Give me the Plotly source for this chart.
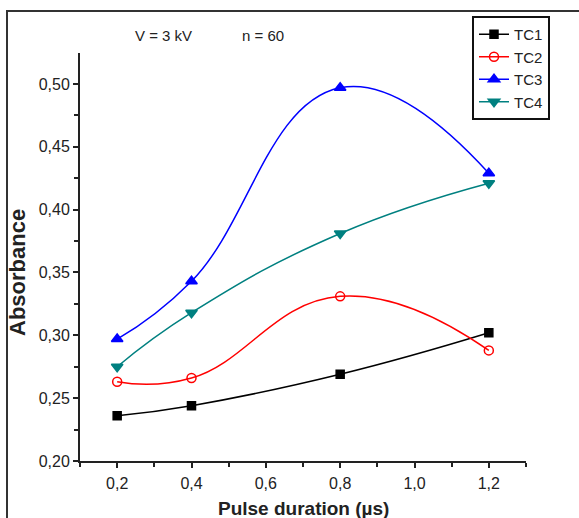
import plotly.graph_objects as go

# Pulse duration (µs) and measured absorbance for each sample
pulse = [0.2, 0.4, 0.8, 1.2]
tc1 = [0.236, 0.244, 0.269, 0.302]
tc2 = [0.263, 0.266, 0.331, 0.288]
tc3 = [0.297, 0.343, 0.497, 0.429]
tc4 = [0.275, 0.318, 0.381, 0.421]

names = ["TC1", "TC2", "TC3", "TC4"]
series = [tc1, tc2, tc3, tc4]
colors = ["#000000", "#FF0000", "#0000FF", "#008080"]
symbols = ["square", "circle-open", "triangle-up", "triangle-down"]
sizes = [8, 9, 10, 10]

W, H = 579, 518
ML, MR, MT, MB = 80, 53, 53, 57
pw, ph = W - ML - MR, H - MT - MB


def px_x(x):
    return (x - ML) / pw


def px_y(y):
    return (H - MB - y) / ph


fig = go.Figure()
for name, ys, c, s, sz in zip(names, series, colors, symbols, sizes):
    fig.add_trace(go.Scatter(
        x=pulse, y=ys, name=name, mode="lines+markers",
        line=dict(color=c, width=1.5, shape="spline", smoothing=1.3),
        marker=dict(symbol=s, size=sz, color=c,
                    line=dict(color=c, width=1.5)),
    ))

font_main = "Liberation Sans, Arial, sans-serif"

fig.update_layout(
    width=W, height=H,
    margin=dict(l=ML, r=MR, t=MT, b=MB, autoexpand=False),
    paper_bgcolor="white", plot_bgcolor="white",
    separators=",.",
    font=dict(family=font_main, size=16, color="#222"),
    xaxis=dict(
        range=[0.1, 1.3], tickvals=[0.2, 0.4, 0.6, 0.8, 1.0, 1.2],
        tickformat=".1f", showgrid=False, zeroline=False, automargin=False,
        showline=True, linecolor="#222", linewidth=2,
        ticks="outside", ticklen=5, tickwidth=2, tickcolor="#222",
        minor=dict(dtick=0.1, tick0=0.1, ticks="outside", ticklen=4,
                   tickwidth=2, tickcolor="#222", showgrid=False),
        ticklabelstandoff=2,
    ),
    yaxis=dict(
        range=[0.20, 0.5246], tickvals=[0.20, 0.25, 0.30, 0.35, 0.40, 0.45, 0.50],
        tickformat=".2f", showgrid=False, zeroline=False, automargin=False,
        showline=True, linecolor="#222", linewidth=2,
        ticks="outside", ticklen=5, tickwidth=2, tickcolor="#222",
        minor=dict(dtick=0.025, tick0=0.2, ticks="outside", ticklen=4,
                   tickwidth=2, tickcolor="#222", showgrid=False),
    ),
    legend=dict(
        x=px_x(472), y=px_y(16), xanchor="left", yanchor="top",
        bgcolor="white", bordercolor="#111", borderwidth=2,
        font=dict(size=15, color="#222"),
    ),
    showlegend=True,
)

# Axis titles
fig.add_annotation(text="<b>Pulse duration (µs)</b>", x=px_x(303), y=px_y(508),
                   xref="paper", yref="paper", showarrow=False,
                   xanchor="center", yanchor="middle",
                   font=dict(size=19, color="#222"))
fig.add_annotation(text="<b>Absorbance</b>", x=px_x(17), y=px_y(273),
                   xref="paper", yref="paper", showarrow=False, textangle=-90,
                   xanchor="center", yanchor="middle",
                   font=dict(size=22, color="#222"))

# Experimental conditions
fig.add_annotation(text="V = 3 kV", x=px_x(163), y=px_y(36),
                   xref="paper", yref="paper", showarrow=False,
                   xanchor="center", yanchor="middle",
                   font=dict(size=15, color="#222"))
fig.add_annotation(text="n = 60", x=px_x(263), y=px_y(36),
                   xref="paper", yref="paper", showarrow=False,
                   xanchor="center", yanchor="middle",
                   font=dict(size=15, color="#222"))

# Outer frame: left and top edges
fig.add_shape(type="line", xref="paper", yref="paper",
              x0=px_x(7), y0=px_y(11), x1=px_x(7), y1=px_y(H),
              line=dict(color="#333", width=2))
fig.add_shape(type="line", xref="paper", yref="paper",
              x0=px_x(6), y0=px_y(11), x1=px_x(W), y1=px_y(11),
              line=dict(color="#333", width=2))

fig.write_html("out.html")
